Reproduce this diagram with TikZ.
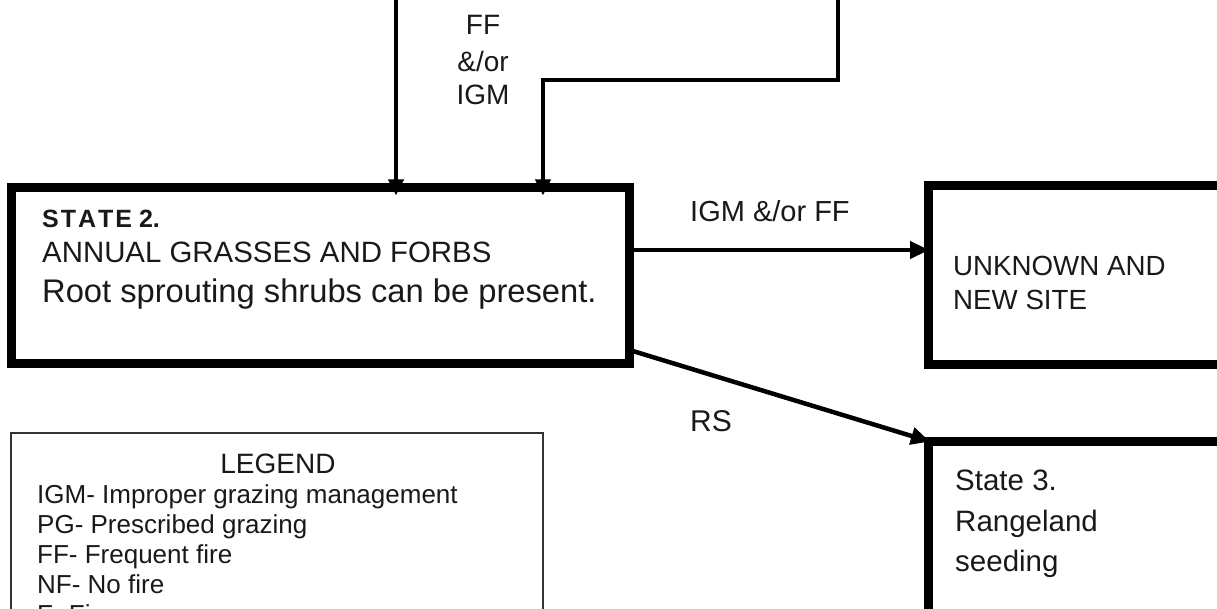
\documentclass[tikz,border=0pt]{standalone}
\usepackage{fontspec}
\setmainfont{Liberation Sans}
\usetikzlibrary{arrows.meta,calc}
\begin{document}
\begin{tikzpicture}[x=1pt,y=-1pt,
  statebox/.style={draw=black, line width=9pt, rectangle, outer sep=0pt, inner sep=0pt},
  legbox/.style={draw=black!80, line width=2.5pt, rectangle, outer sep=0pt, inner sep=0pt},
  conn/.style={draw=black, line width=4.5pt, -{Triangle[length=19pt,width=17pt]}},
  txt/.style={anchor=base west, inner sep=0pt, text=black!90},
  ctxt/.style={anchor=base, inner sep=0pt, text=black!90}]
\useasboundingbox (0,0) rectangle (1217,609);
\clip (0,0) rectangle (1217,609);
% boxes
\node[statebox, anchor=north west, minimum width=618.5pt, minimum height=175.5pt] (s2) at (11,187.5) {};
\node[statebox, anchor=north west, minimum width=293pt, minimum height=178pt] (u) at (928,186) {};
\node[statebox, anchor=north west, minimum width=293pt, minimum height=175pt] (s3) at (928,441) {};
\node[legbox, anchor=north west, minimum width=532pt, minimum height=210pt] (leg) at (11,433) {};
% texts of state 2
\node[txt, font=\bfseries\fontsize{25}{30}\selectfont] (s2a) at (42,228) {S\kern2pt T\kern2pt A\kern2pt T\kern2pt E 2.};
\node[txt, font=\fontsize{29.4}{34}\selectfont] (s2b) at (42,263) {ANNUAL GRASSES AND FORBS};
\node[txt, font=\fontsize{32.7}{38}\selectfont] (s2c) at (42,302) {Root sprouting shrubs can be present.};
% unknown
\node[txt, font=\fontsize{27.7}{33}\selectfont] (ua) at (953,276) {UNKNOWN AND};
\node[txt, font=\fontsize{27.7}{33}\selectfont] (ub) at (953,309) {NEW SITE};
% state 3
\node[txt, font=\fontsize{29.5}{36}\selectfont] (s3a) at (955,490) {State 3.};
\node[txt, font=\fontsize{29.5}{36}\selectfont] (s3b) at (955,531) {Rangeland};
\node[txt, font=\fontsize{29.5}{36}\selectfont] (s3c) at (955,571) {seeding};
% legend
\node[ctxt, font=\fontsize{28}{34}\selectfont] (lt) at (278,473) {LEGEND};
\node[txt, font=\fontsize{26}{30}\selectfont] (l1) at (37,503) {IGM- Improper grazing management};
\node[txt, font=\fontsize{26}{30}\selectfont] (l2) at (37,533) {PG- Prescribed grazing};
\node[txt, font=\fontsize{26}{30}\selectfont] (l3) at (37,563) {FF- Frequent fire};
\node[txt, font=\fontsize{26}{30}\selectfont] (l4) at (37,593) {NF- No fire};
\node[txt, font=\fontsize{26}{30}\selectfont] (l5) at (37,623) {F- Fire};
% connector labels
\node[ctxt, font=\fontsize{28}{34}\selectfont] (la) at (483,35) {FF};
\node[ctxt, font=\fontsize{28}{34}\selectfont] (lb) at (483,72) {\&/or};
\node[ctxt, font=\fontsize{28}{34}\selectfont] (lc) at (483,105) {IGM};
\node[txt, font=\fontsize{29}{34}\selectfont] (ld) at (690,222) {IGM \&/or FF};
\node[txt, font=\fontsize{30}{34}\selectfont] (le) at (690,431) {RS};
% connectors
\coordinate (t1) at (396,-5);
\coordinate (t2) at (838,-5);
\coordinate (j) at (543,80);
\draw[conn, line width=4pt, -{Triangle[length=16pt,width=15pt]}, shorten >=-8pt] (t1) -- (t1 |- s2.north);
\draw[conn, line width=4pt, -{Triangle[length=16pt,width=15pt]}, shorten >=-8pt] (t2) |- (j) -- (j |- s2.north);
\draw[conn, shorten >=-1pt] (s2.east |- 0,250) -- (u.west |- 0,250);
\draw[conn, shorten >=-2pt] (s2.east |- 0,350) -- (s3.north west);
\end{tikzpicture}
\end{document}
